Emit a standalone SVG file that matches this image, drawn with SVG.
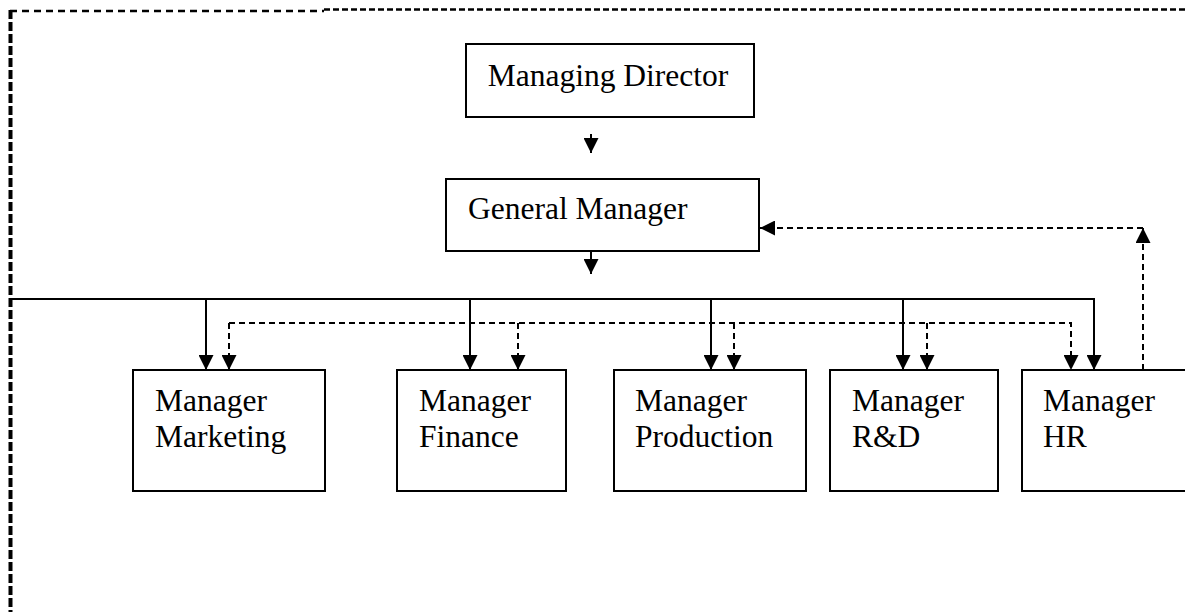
<svg xmlns="http://www.w3.org/2000/svg" width="1185" height="612" viewBox="0 0 1185 612">
<style>
.box{fill:#fff;stroke:#000;stroke-width:2}
.t{font-family:"Liberation Serif","Times New Roman",serif;font-size:31.5px;fill:#000}
.solid{fill:none;stroke:#000;stroke-width:2}
.dash{fill:none;stroke:#000;stroke-width:2;stroke-dasharray:6 4}
</style>
<defs>
<marker id="ah" markerUnits="userSpaceOnUse" markerWidth="15" markerHeight="15" viewBox="0 0 15 15" refX="15" refY="7.5" orient="auto">
<path d="M0,0 L15,7.5 L0,15 Z" fill="#000"/>
</marker>
</defs>
<g id="frame">
<line x1="10" y1="11" x2="324" y2="11" stroke="#000" stroke-width="2.5" stroke-dasharray="7 5"/>
<line x1="324" y1="9.5" x2="1185" y2="9.5" stroke="#000" stroke-width="2.5" stroke-dasharray="6 3"/>
<line x1="10.5" y1="10" x2="10.5" y2="612" stroke="#000" stroke-width="4" stroke-dasharray="9 3"/>
</g>
<g id="connectors">
<line class="solid" x1="591" y1="134" x2="591" y2="153" marker-end="url(#ah)"/>
<line class="solid" x1="591" y1="251" x2="591" y2="274" marker-end="url(#ah)"/>
<path class="solid" d="M10,299 H1094 V370" marker-end="url(#ah)"/>
<line class="solid" x1="206" y1="299" x2="206" y2="370" marker-end="url(#ah)"/>
<line class="solid" x1="470" y1="299" x2="470" y2="370" marker-end="url(#ah)"/>
<line class="solid" x1="711" y1="299" x2="711" y2="370" marker-end="url(#ah)"/>
<line class="solid" x1="903" y1="299" x2="903" y2="370" marker-end="url(#ah)"/>
<path class="dash" d="M229,323 H1071 V370" marker-end="url(#ah)"/>
<path class="dash" d="M229,323 V370" marker-end="url(#ah)"/>
<path class="dash" d="M518,323 V370" marker-end="url(#ah)"/>
<path class="dash" d="M734,323 V370" marker-end="url(#ah)"/>
<path class="dash" d="M927,323 V370" marker-end="url(#ah)"/>
<path class="dash" d="M1143,370 V228" marker-end="url(#ah)"/>
<path class="dash" d="M1143,228 H760" marker-end="url(#ah)"/>
</g>
<g id="md">
<rect class="box" x="466" y="44" width="288" height="73"/>
<text class="t" x="608" y="86" text-anchor="middle">Managing Director</text>
</g>
<g id="gm">
<rect class="box" x="446" y="179" width="313" height="72"/>
<text class="t" x="468" y="219">General Manager</text>
</g>
<g id="marketing">
<rect class="box" x="133" y="370" width="192" height="121"/>
<text class="t" x="155" y="411">Manager</text>
<text class="t" x="155" y="447">Marketing</text>
</g>
<g id="finance">
<rect class="box" x="397" y="370" width="169" height="121"/>
<text class="t" x="419" y="411">Manager</text>
<text class="t" x="419" y="447">Finance</text>
</g>
<g id="production">
<rect class="box" x="614" y="370" width="192" height="121"/>
<text class="t" x="635" y="411">Manager</text>
<text class="t" x="635" y="447">Production</text>
</g>
<g id="rd">
<rect class="box" x="830" y="370" width="168" height="121"/>
<text class="t" x="852" y="411">Manager</text>
<text class="t" x="852" y="447">R&amp;D</text>
</g>
<g id="hr">
<rect class="box" x="1022" y="370" width="170" height="121"/>
<text class="t" x="1043" y="411">Manager</text>
<text class="t" x="1043" y="447">HR</text>
</g>
</svg>
